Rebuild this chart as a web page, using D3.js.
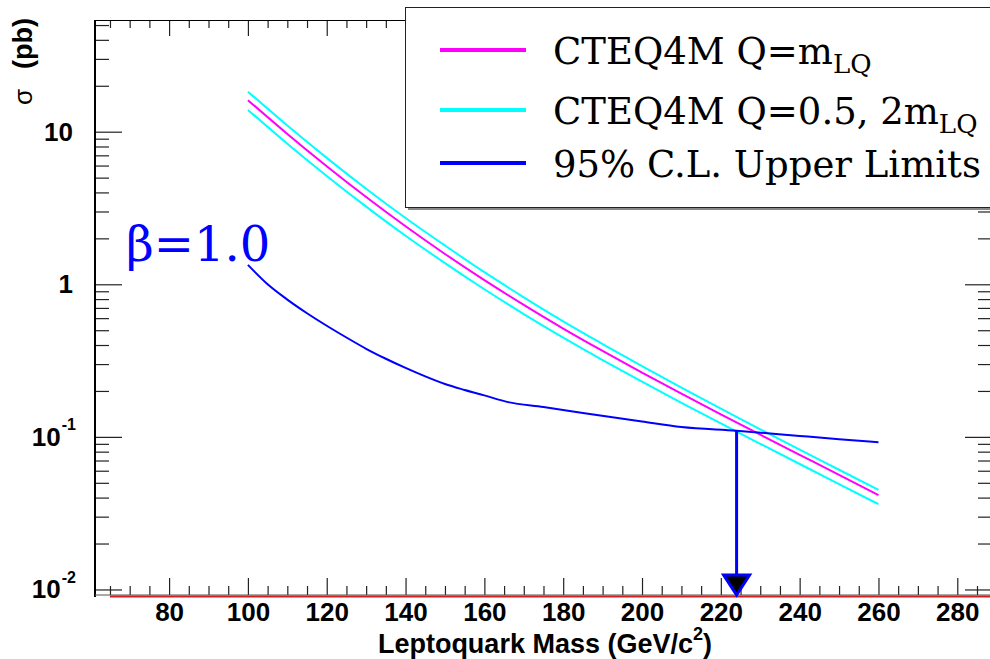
<!DOCTYPE html>
<html>
<head>
<meta charset="utf-8">
<script src="https://cdn.jsdelivr.net/npm/d3@7"></script>
<style>
  html, body { margin: 0; padding: 0; background: #fff; }
  svg { display: block; }
</style>
</head>
<body>
<svg id="chart" width="990" height="659"></svg>
<script>
// Leptoquark pair production cross section vs. mass, with 95% C.L. upper limit
const massPoints = [100, 110, 120, 130, 140, 150, 160, 170, 180, 190, 200, 210, 220, 230, 240, 250, 260];
const sigmaCentral = [16.1, 9.67, 5.94, 3.73, 2.40, 1.58, 1.065, 0.733, 0.513, 0.366, 0.264, 0.192, 0.1405, 0.1034, 0.0763, 0.0563, 0.0415];
const sigmaScaleHigh = [18.3, 10.98, 6.74, 4.23, 2.72, 1.795, 1.20, 0.822, 0.572, 0.406, 0.2906, 0.210, 0.1529, 0.1121, 0.0825, 0.0609, 0.0449];
const sigmaScaleLow = [13.9, 8.35, 5.13, 3.23, 2.08, 1.377, 0.928, 0.638, 0.447, 0.3188, 0.2298, 0.167, 0.1224, 0.0901, 0.0664, 0.0490, 0.0362];

const limitMass = [100, 105, 110, 115, 120, 125, 130, 135, 140, 145, 150, 155, 160, 166, 175, 185, 200, 210, 224, 240, 250, 260];
const limitSigma = [1.34, 1.0, 0.794, 0.646, 0.535, 0.448, 0.378, 0.325, 0.283, 0.249, 0.222, 0.203, 0.187, 0.169, 0.157, 0.1435, 0.126, 0.116, 0.1096, 0.1014, 0.0966, 0.0922];

const massLimit = 224;
const massLimitSigma = 0.1096;

const xMajorTicks = [80, 100, 120, 140, 160, 180, 200, 220, 240, 260, 280];
const yMajorTicks = [0.01, 0.1, 1, 10];
const legendLabels = [
  { main: "CTEQ4M Q=m", sub: "LQ" },
  { main: "CTEQ4M Q=0.5, 2m", sub: "LQ" },
  { main: "95% C.L. Upper Limits", sub: "" }
];
const legendColors = ["#ff00ff", "#00ffff", "#0000ff"];
const betaLabel = "β=1.0";

const svg = d3.select("#chart");
const L = 95, R = 990, T = 20, B = 596;

const x = d3.scaleLinear().domain([61.2, 288.3]).range([L, R]);
const y = d3.scaleLog().domain([0.00906, 53.96]).range([B, T]);

const xMinor = d3.range(65, 289, 5).filter(v => v % 20 !== 0);
const yMinor = [];
[0.001, 0.01, 0.1, 1, 10].forEach(d => { for (let k = 2; k <= 9; k++) { const v = d * k; if (v >= 0.00906 && v <= 53.96) yMinor.push(v); } });

const tickFont = "Liberation Sans, Arial, sans-serif";
const tickSize = 26;

// red baseline along the bottom of the frame
svg.append("line")
  .attr("x1", x(65)).attr("x2", R).attr("y1", B + 0.5).attr("y2", B + 0.5)
  .attr("stroke", "#d02020").attr("stroke-width", 2);

function styleAxis(g) {
  g.select(".domain").remove();
  g.selectAll(".tick line").attr("stroke", "#222").attr("stroke-width", 1.2);
}

// bottom axis
svg.append("g").attr("transform", `translate(0,${B - 1})`)
  .call(d3.axisBottom(x).tickValues(xMajorTicks).tickSize(-17).tickPadding(8).tickFormat(d3.format("d")))
  .call(styleAxis)
  .call(g => g.selectAll("text").attr("font-family", tickFont).attr("font-weight", "bold").attr("font-size", tickSize).attr("fill", "#000"));
svg.append("g").attr("transform", `translate(0,${B - 1})`)
  .call(d3.axisBottom(x).tickValues(xMinor).tickSize(-9).tickFormat(""))
  .call(styleAxis);

// top axis
svg.append("g").attr("transform", `translate(0,${T})`)
  .call(d3.axisTop(x).tickValues(xMajorTicks).tickSize(-16).tickFormat(""))
  .call(styleAxis);
svg.append("g").attr("transform", `translate(0,${T})`)
  .call(d3.axisTop(x).tickValues(xMinor).tickSize(-8).tickFormat(""))
  .call(styleAxis);

// left axis
const leftAxis = svg.append("g").attr("transform", `translate(${L},0)`)
  .call(d3.axisLeft(y).tickValues(yMajorTicks).tickSize(-27).tickPadding(22).tickFormat(() => ""))
  .call(styleAxis);
svg.append("g").attr("transform", `translate(${L},0)`)
  .call(d3.axisLeft(y).tickValues(yMinor).tickSize(-14).tickFormat(""))
  .call(styleAxis);

leftAxis.selectAll(".tick").each(function (d) {
  const t = d3.select(this).select("text")
    .attr("font-family", tickFont).attr("font-weight", "bold").attr("font-size", tickSize).attr("fill", "#000");
  const e = Math.round(Math.log10(d));
  if (e >= 0) {
    t.text(String(Math.round(d)));
  } else {
    t.attr("x", -19);
    t.append("tspan").text("10");
    t.append("tspan").attr("font-size", 16).attr("dy", "-0.95em").attr("dx", 1).text(String(e));
  }
});

// right axis
svg.append("g").attr("transform", `translate(${R},0)`)
  .call(d3.axisRight(y).tickValues(yMajorTicks).tickSize(-25).tickFormat(""))
  .call(styleAxis);
svg.append("g").attr("transform", `translate(${R},0)`)
  .call(d3.axisRight(y).tickValues(yMinor).tickSize(-12).tickFormat(""))
  .call(styleAxis);

// frame
svg.append("line").attr("x1", L).attr("x2", L).attr("y1", T).attr("y2", B + 1)
  .attr("stroke", "#000").attr("stroke-width", 2);
svg.append("line").attr("x1", L).attr("x2", R).attr("y1", T + 0.5).attr("y2", T + 0.5)
  .attr("stroke", "#000").attr("stroke-width", 1);
svg.append("line").attr("x1", L).attr("x2", R).attr("y1", B - 1).attr("y2", B - 1)
  .attr("stroke", "#555").attr("stroke-width", 1);

// curves
const curve = (xs, ys) => xs.map((m, i) => [m, ys[i]]);
const lineCurve = d3.line().curve(d3.curveMonotoneX).x(d => x(d[0])).y(d => y(d[1]));

svg.append("path").datum(curve(massPoints, sigmaScaleHigh)).attr("d", lineCurve)
  .attr("fill", "none").attr("stroke", legendColors[1]).attr("stroke-width", 2);
svg.append("path").datum(curve(massPoints, sigmaScaleLow)).attr("d", lineCurve)
  .attr("fill", "none").attr("stroke", legendColors[1]).attr("stroke-width", 2);
svg.append("path").datum(curve(massPoints, sigmaCentral)).attr("d", lineCurve)
  .attr("fill", "none").attr("stroke", legendColors[0]).attr("stroke-width", 2);
svg.append("path").datum(curve(limitMass, limitSigma)).attr("d", lineCurve)
  .attr("fill", "none").attr("stroke", legendColors[2]).attr("stroke-width", 2);

// arrow at the mass limit
const ax = x(massLimit);
svg.append("line").attr("x1", ax).attr("x2", ax)
  .attr("y1", y(massLimitSigma)).attr("y2", B - 21)
  .attr("stroke", "#0000ff").attr("stroke-width", 3);
svg.append("path")
  .attr("d", `M${ax - 13},${B - 21} L${ax + 13},${B - 21} L${ax},${B - 1} Z`)
  .attr("fill", "#000").attr("stroke", "#0000ff").attr("stroke-width", 3).attr("stroke-linejoin", "miter");

// beta label
svg.append("text").attr("x", 126).attr("y", 261)
  .attr("font-family", "DejaVu Serif, serif").attr("font-size", 48).attr("fill", "#0000ff")
  .text(betaLabel);

// legend
const lg = svg.append("g");
lg.append("rect").attr("x", 408).attr("y", 10).attr("width", 600).attr("height", 200).attr("fill", "#888");
lg.append("rect").attr("x", 405.5).attr("y", 7.5).attr("width", 600).attr("height", 200)
  .attr("fill", "#fff").attr("stroke", "#222").attr("stroke-width", 1);
const rowsY = [50, 110, 163];
legendLabels.forEach((d, i) => {
  lg.append("line").attr("x1", 440).attr("x2", 526).attr("y1", rowsY[i]).attr("y2", rowsY[i])
    .attr("stroke", legendColors[i]).attr("stroke-width", 4);
  const t = lg.append("text").attr("x", 553).attr("y", rowsY[i] + 14)
    .attr("font-family", "DejaVu Serif, serif").attr("font-size", 37).attr("fill", "#000");
  t.append("tspan").text(d.main);
  if (d.sub) t.append("tspan").attr("font-size", 26).attr("dy", 9).text(d.sub);
});

// axis titles
const xt = svg.append("text").attr("x", 712).attr("y", 653).attr("text-anchor", "end")
  .attr("font-family", tickFont).attr("font-weight", "bold").attr("font-size", 27).attr("fill", "#000");
xt.append("tspan").text("Leptoquark Mass (GeV/c");
xt.append("tspan").attr("font-size", 18).attr("dy", -13).text("2");
xt.append("tspan").attr("dy", 13).text(")");

const yt = svg.append("text").attr("transform", "translate(32,18) rotate(-90)").attr("text-anchor", "end")
  .attr("font-family", tickFont).attr("fill", "#000");
yt.append("tspan").attr("font-size", 26).text("σ");
yt.append("tspan").attr("font-size", 27).attr("font-weight", "bold").attr("dx", 20).text("(pb)");
</script>
</body>
</html>
